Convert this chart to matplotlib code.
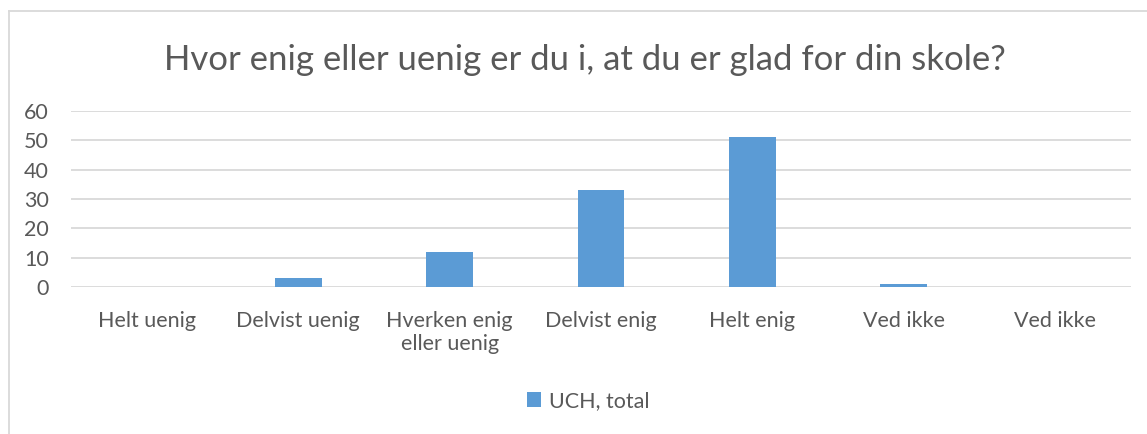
import matplotlib
matplotlib.use("Agg")
import matplotlib.pyplot as plt
from matplotlib.lines import Line2D

categories = ["Helt uenig", "Delvist uenig", "Hverken enig\neller uenig", "Delvist enig",
              "Helt enig", "Ved ikke", "Ved ikke"]
values = [0, 3, 12, 33, 51, 1, 0]
series_name = "UCH, total"
title = "Hvor enig eller uenig er du i, at du er glad for din skole?"
yticks = [0, 10, 20, 30, 40, 50, 60]

plt.rcParams['font.family'] = ['Lato', 'DejaVu Sans']
W, H = 1147, 434
fig = plt.figure(figsize=(W / 100, H / 100), dpi=100)
fig.patch.set_facecolor("white")

ax = fig.add_axes([71 / W, 1 - 287.3 / H, (1131 - 71) / W, (287.3 - 110.7) / H])
x = list(range(len(categories)))
ax.bar(x, values, width=0.31, color="#5B9BD5", label=series_name, zorder=3)
ax.set_xlim(-0.5, len(categories) - 0.5)
ax.set_ylim(0, 60)
ax.set_yticks(yticks)
ax.set_yticklabels([str(v) for v in yticks])
ax.set_xticks(x)
ax.set_xticklabels(categories, linespacing=1.2)
ax.tick_params(axis="y", length=0, pad=16, labelsize=15.5, labelcolor="#595959")
ax.tick_params(axis="x", length=0, pad=17, labelsize=15.5, labelcolor="#595959")
for s in ax.spines.values():
    s.set_visible(False)
ax.grid(axis="y", color="#D9D9D9", linewidth=1.3, zorder=0)
ax.set_axisbelow(True)

fig.text(585 / W, 1 - 60 / H, title, ha="center", va="center", fontsize=25, color="#595959")

leg = fig.legend(loc="center", bbox_to_anchor=(588 / W, 1 - 401 / H), frameon=False,
                 fontsize=15.5, handlelength=0.65, handleheight=0.65, handletextpad=0.35)
for t in leg.get_texts():
    t.set_color("#595959")

# chart border (top and left visible)
fig.add_artist(Line2D([8.5 / W, 1.0], [1 - 11 / H, 1 - 11 / H], transform=fig.transFigure,
                      color="#D9D9D9", linewidth=1.3))
fig.add_artist(Line2D([8.5 / W, 8.5 / W], [0, 1 - 11 / H], transform=fig.transFigure,
                      color="#D9D9D9", linewidth=1.3))

fig.savefig("out.png", dpi=100, facecolor="white")
